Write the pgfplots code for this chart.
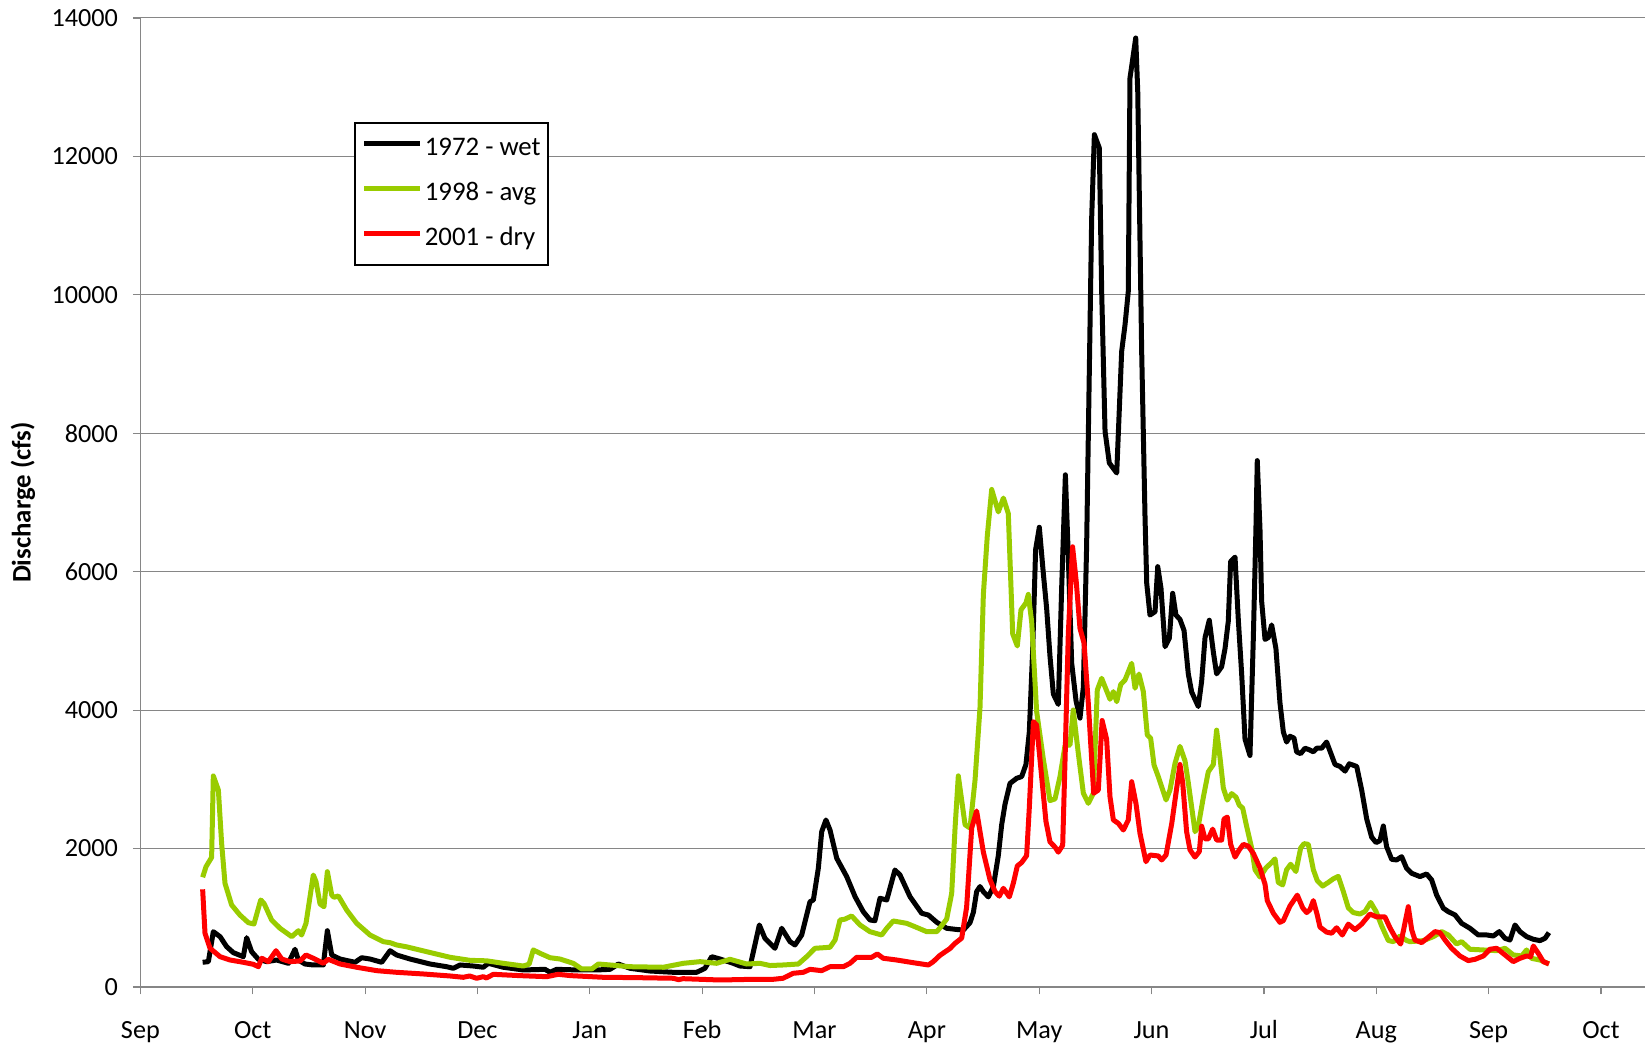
\documentclass[border=0pt]{standalone}
\usepackage{pgfplots}
\pgfplotsset{compat=1.18}
\usepackage{fontspec}
\setmainfont{Carlito}
\usetikzlibrary{calc}
\definecolor{avggreen}{HTML}{99CC00}
\definecolor{axgray}{HTML}{868686}
\newcommand{\fs}{\fontsize{13.1}{15.7}\selectfont}
\newcommand{\fl}{\fontsize{13.4}{16}\selectfont}
\begin{document}
\begin{tikzpicture}
\begin{axis}[
  scale only axis,
  width=752.3pt, height=484.5pt,
  xmin=0, xmax=13.392, ymin=0, ymax=14000,
  axis lines=left,
  axis line style={-, draw=axgray, line width=0.7pt},
  xtick={0,1,2,3,4,5,6,7,8,9,10,11,12,13},
  xticklabels={Sep,Oct,Nov,Dec,Jan,Feb,Mar,Apr,May,Jun,Jul,Aug,Sep,Oct},
  ytick={0,2000,4000,6000,8000,10000,12000,14000},
  scaled y ticks=false,
  tick align=outside,
  major tick length=3.75pt,
  tick style={draw=axgray, line width=0.6pt},
  ymajorgrids,
  grid style={draw=axgray, line width=0.5pt},
  /pgf/number format/assume math mode=true,
  /pgf/number format/1000 sep={},
  yticklabel={\pgfmathprintnumber[fixed,precision=0,1000 sep={}]{\tick}},
  xticklabel style={font=\fs, inner sep=0pt, anchor=base, yshift=-22.15pt},
  yticklabel style={font=\fs, inner sep=0pt, anchor=east, xshift=-7.25pt},
  ylabel={Discharge (cfs)},
  ylabel style={font=\fl\bfseries, at={(axis description cs:-0.078,0.5)}, anchor=center},
  legend style={at={(axis description cs:0.142,0.8927)}, anchor=north west,
    draw=black, line width=1pt, fill=white, font=\fl,
    inner xsep=3.5pt, inner ysep=7.1pt, row sep=10.5pt, column sep=1pt,
    nodes={inner sep=0pt, text height=9pt, text depth=3pt}},
  legend cell align=left,
  legend image code/.code={\draw[#1, line width=2.4pt] (0pt,3pt) -- (28pt,3pt);},
  every axis plot/.append style={line width=2.5pt, line join=round},
]
\addplot[black] coordinates {
(0.554,357)(0.605,366)(0.649,799)(0.709,727)(0.768,582)(0.827,496)(0.916,438)(0.946,712)(0.990,510)
(1.050,400)(1.124,366)(1.213,390)(1.317,342)(1.376,545)(1.406,390)(1.465,332)(1.539,318)(1.628,318)
(1.664,813)(1.703,462)(1.777,404)(1.910,357)(1.970,423)(2.044,404)(2.148,357)(2.222,524)(2.281,462)
(2.400,404)(2.578,332)(2.726,293)(2.785,270)(2.845,318)(2.963,303)(3.052,285)(3.097,342)(3.230,285)
(3.408,246)(3.601,255)(3.646,213)(3.705,255)(3.898,246)(4.061,246)(4.180,255)(4.254,332)(4.358,270)
(4.536,231)(4.743,212)(4.951,212)(5.025,270)(5.085,438)(5.159,404)(5.277,342)(5.337,303)(5.426,293)
(5.509,896)(5.559,703)(5.648,559)(5.708,848)(5.782,655)(5.826,607)(5.886,751)(5.960,1232)(5.990,1257)
(6.034,1715)(6.064,2244)(6.102,2413)(6.138,2268)(6.198,1859)(6.287,1594)(6.361,1305)(6.434,1088)
(6.494,968)(6.538,958)(6.583,1282)(6.643,1257)(6.716,1690)(6.761,1618)(6.850,1305)(6.954,1065)
(7.013,1040)(7.088,935)(7.177,848)(7.265,831)(7.325,823)(7.384,929)(7.414,1078)(7.443,1377)
(7.473,1451)(7.503,1377)(7.547,1302)(7.592,1451)(7.636,1898)(7.666,2345)(7.696,2643)(7.740,2941)
(7.799,3015)(7.844,3040)(7.882,3215)(7.912,3686)(7.942,4878)(7.968,6318)(8.001,6642)(8.037,5970)
(8.066,5474)(8.096,4778)(8.126,4232)(8.170,4083)(8.200,5772)(8.233,7400)(8.259,6218)(8.289,4680)
(8.328,4132)(8.363,3885)(8.393,4331)(8.422,6367)(8.467,11110)(8.491,12314)(8.535,12122)(8.556,10052)
(8.586,8029)(8.624,7571)(8.690,7426)(8.734,9185)(8.764,9569)(8.793,10052)(8.808,13133)(8.859,13711)
(8.877,12941)(8.912,9185)(8.942,6776)(8.957,5832)(8.986,5374)(9.031,5422)(9.055,6073)(9.084,5760)
(9.120,4917)(9.158,5038)(9.188,5688)(9.217,5374)(9.253,5310)(9.289,5152)(9.327,4524)(9.357,4262)
(9.416,4052)(9.446,4419)(9.476,5048)(9.514,5299)(9.550,4838)(9.579,4524)(9.624,4628)(9.654,4890)
(9.683,5284)(9.704,6148)(9.743,6211)(9.772,5310)(9.802,4524)(9.832,3580)(9.876,3345)(9.906,5048)
(9.929,6620)(9.941,7605)(9.965,6620)(9.980,5572)(10.010,5022)(10.039,5048)(10.069,5231)(10.107,4890)
(10.143,4104)(10.173,3685)(10.202,3539)(10.232,3622)(10.268,3596)(10.291,3397)(10.327,3371)
(10.366,3450)(10.410,3423)(10.440,3397)(10.470,3450)(10.514,3450)(10.558,3539)(10.603,3345)
(10.633,3214)(10.677,3187)(10.722,3119)(10.760,3224)(10.826,3187)(10.870,2847)(10.915,2427)
(10.959,2165)(10.998,2087)(11.033,2113)(11.063,2326)(11.092,2028)(11.137,1845)(11.181,1835)
(11.226,1883)(11.270,1715)(11.315,1643)(11.389,1595)(11.448,1633)(11.493,1547)(11.537,1330)
(11.597,1137)(11.641,1089)(11.701,1041)(11.760,920)(11.834,848)(11.908,752)(11.982,752)(12.042,737)
(12.095,800)(12.146,703)(12.190,679)(12.235,896)(12.279,800)(12.338,728)(12.398,689)(12.457,670)
(12.502,703)(12.537,785)
};
\addlegendentry{1972 - wet}
\addplot[avggreen] coordinates {
(0.554,1585)(0.584,1738)(0.634,1873)(0.649,3049)(0.694,2846)(0.723,2076)(0.753,1498)(0.812,1185)
(0.886,1040)(0.961,929)(1.011,910)(1.071,1257)(1.100,1209)(1.168,968)(1.243,848)(1.347,727)
(1.406,813)(1.435,751)(1.474,920)(1.539,1618)(1.563,1521)(1.599,1199)(1.634,1160)(1.664,1666)
(1.703,1329)(1.723,1296)(1.762,1315)(1.836,1112)(1.925,920)(2.044,751)(2.162,655)(2.222,640)
(2.281,607)(2.370,580)(2.459,545)(2.607,487)(2.756,429)(2.934,385)(3.082,378)(3.230,342)(3.408,303)
(3.460,330)(3.497,535)(3.557,487)(3.646,423)(3.735,404)(3.853,342)(3.928,260)(4.017,260)(4.076,332)
(4.180,318)(4.358,293)(4.654,285)(4.832,342)(4.981,366)(5.129,342)(5.248,400)(5.396,332)(5.515,342)
(5.604,310)(5.722,318)(5.856,332)(5.930,438)(6.004,559)(6.138,574)(6.183,679)(6.227,968)(6.270,980)
(6.331,1026)(6.405,896)(6.494,799)(6.598,751)(6.643,848)(6.701,954)(6.820,920)(6.894,871)(6.999,799)
(7.088,799)(7.117,855)(7.176,980)(7.221,1351)(7.251,2296)(7.280,3050)(7.340,2345)(7.384,2296)
(7.429,2991)(7.473,4034)(7.503,5672)(7.538,6518)(7.577,7188)(7.636,6864)(7.681,7064)(7.725,6840)
(7.764,5102)(7.805,4927)(7.838,5450)(7.882,5548)(7.903,5672)(7.933,5275)(7.977,3983)(8.037,3288)
(8.096,2693)(8.141,2718)(8.185,3040)(8.230,3488)(8.274,3496)(8.303,4002)(8.348,3376)(8.393,2799)
(8.437,2654)(8.482,2799)(8.517,4291)(8.556,4460)(8.630,4157)(8.660,4267)(8.690,4122)(8.726,4373)
(8.764,4436)(8.823,4677)(8.853,4316)(8.888,4522)(8.927,4267)(8.962,3641)(8.992,3593)(9.022,3207)
(9.060,3039)(9.129,2702)(9.164,2846)(9.209,3232)(9.253,3476)(9.298,3266)(9.327,2951)(9.387,2244)
(9.416,2323)(9.461,2742)(9.505,3109)(9.550,3214)(9.579,3711)(9.609,3318)(9.639,2873)(9.674,2700)
(9.713,2794)(9.752,2742)(9.781,2627)(9.811,2585)(9.846,2323)(9.891,2008)(9.921,1694)(9.965,1589)
(10.018,1720)(10.069,1799)(10.099,1851)(10.128,1511)(10.167,1474)(10.202,1694)(10.238,1773)
(10.285,1668)(10.327,2008)(10.357,2071)(10.395,2061)(10.440,1694)(10.475,1537)(10.523,1458)
(10.573,1511)(10.618,1563)(10.662,1599)(10.707,1379)(10.751,1144)(10.796,1075)(10.855,1054)
(10.900,1091)(10.950,1222)(10.998,1091)(11.048,882)(11.107,672)(11.152,655)(11.211,737)(11.270,672)
(11.300,655)(11.419,670)(11.508,727)(11.582,800)(11.641,752)(11.715,622)(11.760,655)(11.834,545)
(11.953,535)(12.072,525)(12.146,559)(12.220,463)(12.294,448)(12.338,535)(12.383,414)(12.457,390)
(12.537,333)
};
\addlegendentry{1998 - avg}
\addplot[red] coordinates {
(0.554,1411)(0.575,776)(0.620,559)(0.709,438)(0.798,390)(0.916,357)(1.005,328)(1.050,293)(1.080,415)
(1.139,366)(1.207,524)(1.258,404)(1.332,366)(1.421,376)(1.474,462)(1.539,415)(1.628,342)(1.672,400)
(1.777,332)(1.925,285)(2.103,236)(2.281,212)(2.518,188)(2.756,159)(2.874,140)(2.930,159)(2.993,126)
(3.052,149)(3.080,130)(3.141,183)(3.379,164)(3.616,149)(3.720,183)(3.830,164)(4.120,140)(4.417,135)
(4.743,126)(4.790,106)(4.830,120)(5.159,101)(5.455,111)(5.633,111)(5.720,126)(5.811,198)(5.900,212)
(5.960,255)(6.064,236)(6.138,293)(6.256,293)(6.316,342)(6.376,429)(6.509,429)(6.559,477)(6.612,415)
(6.731,390)(6.879,351)(7.013,318)(7.057,366)(7.117,458)(7.206,556)(7.251,631)(7.310,706)(7.354,1153)
(7.399,2296)(7.443,2543)(7.503,1948)(7.562,1550)(7.607,1377)(7.645,1312)(7.681,1426)(7.734,1302)
(7.770,1501)(7.805,1748)(7.844,1799)(7.888,1898)(7.912,2593)(7.948,3834)(7.977,3785)(8.007,3288)
(8.060,2394)(8.096,2096)(8.141,2021)(8.170,1948)(8.209,2047)(8.230,3288)(8.259,5100)(8.297,6360)
(8.330,5850)(8.363,5180)(8.399,4970)(8.437,4100)(8.485,2800)(8.526,2845)(8.560,3850)(8.600,3580)
(8.630,2750)(8.660,2413)(8.704,2365)(8.749,2268)(8.793,2413)(8.823,2966)(8.861,2654)(8.897,2221)
(8.950,1810)(8.986,1907)(9.060,1893)(9.090,1835)(9.129,1907)(9.180,2365)(9.253,3214)(9.277,2951)
(9.312,2244)(9.342,1982)(9.386,1877)(9.425,1956)(9.446,2323)(9.476,2139)(9.505,2139)(9.544,2281)
(9.579,2123)(9.624,2123)(9.645,2427)(9.674,2454)(9.704,2061)(9.743,1877)(9.781,1982)(9.817,2061)
(9.861,2034)(9.906,1930)(9.965,1720)(10.010,1484)(10.030,1248)(10.084,1065)(10.143,934)(10.173,960)
(10.232,1170)(10.297,1327)(10.345,1144)(10.380,1075)(10.410,1117)(10.440,1248)(10.475,1039)
(10.499,866)(10.558,793)(10.603,777)(10.647,855)(10.698,751)(10.751,908)(10.811,829)(10.870,908)
(10.944,1054)(11.003,1013)(11.077,1013)(11.122,855)(11.167,724)(11.217,620)(11.247,855)(11.285,1160)
(11.315,829)(11.344,679)(11.404,641)(11.463,718)(11.523,800)(11.567,785)(11.612,679)(11.671,559)
(11.745,448)(11.819,381)(11.879,400)(11.953,448)(12.012,545)(12.072,559)(12.146,463)(12.220,366)
(12.279,414)(12.338,448)(12.374,438)(12.398,593)(12.442,487)(12.487,366)(12.537,333)
};
\addlegendentry{2001 - dry}
\end{axis}
\pgfresetboundingbox
\useasboundingbox ($(current axis.south west)+(-70.2pt,-30pt)$) rectangle ($(current axis.north east)+(0pt,9pt)$);
\end{tikzpicture}
\end{document}
